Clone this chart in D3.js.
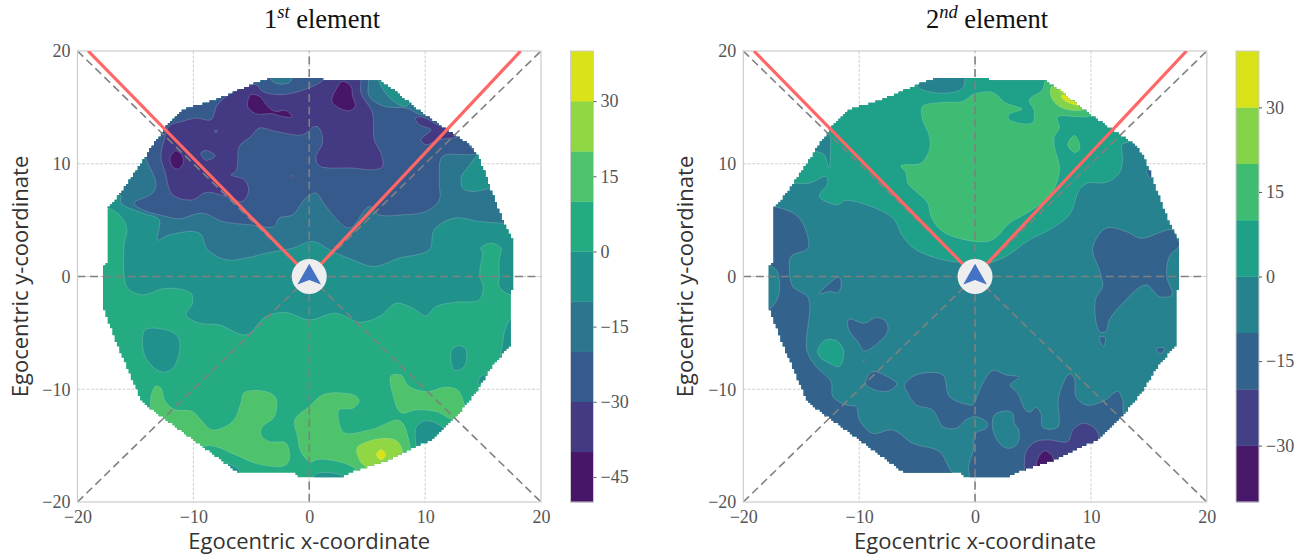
<!DOCTYPE html>
<html><head><meta charset="utf-8">
<script src="https://cdn.jsdelivr.net/npm/d3@7/dist/d3.min.js"></script>
<style>html,body{margin:0;background:#fff}svg{display:block}</style></head>
<body><svg id="c" width="1309" height="560"></svg>
<script>
// Data coordinates: egocentric x / y. Bands are numbered from the lowest level upward.
const discOutline=[[-3.16,17.7],[1.15,17.7],[1.2,17.4],[5.98,17.4],[7.19,16.57],[8.63,15.4],[9.98,14.35],[11.9,13],[13.8,11.7],[14.5,10.8],[15,9.6],[15.8,7.4],[16.8,4.7],[17.7,2.9],[17.7,-1.2],[17.34,-1.33],[17.34,-6.07],[15.8,-8],[14.4,-10.35],[12.5,-12.7],[10.6,-14.5],[8.6,-15.4],[6.76,-16.3],[4.03,-17.2],[2.88,-17.75],[-1,-17.75],[-1.15,-17.45],[-6.04,-17.45],[-9.2,-15.1],[-12.4,-12.7],[-14.5,-11.1],[-15,-9.8],[-16.4,-6.5],[-17.4,-3.85],[-17.75,-2.9],[-17.75,0.9],[-17.4,1.33],[-17.4,6.07],[-16.25,7.4],[-15.1,9.17],[-14.15,10.65],[-13.5,11.7],[-12.1,13.6],[-10.9,14.8],[-8.05,15.7],[-4.6,17.16],[-3.9,17.4]];

const firstLevels=[-50,-40,-30,-20,-10,0,10,20,30,40];
const secondLevels=[-40,-30,-20,-10,0,10,20,30,40];
const firstTicks=[30,15,0,-15,-30,-45];
const secondTicks=[30,15,0,-15,-30];
const axisTicks=[-20,-10,0,10,20];

// First element
const firstBase=5;
const firstBand4=[
 [[-20,6.1],[-17.4,6.07],[-16.25,5.33],[-15.73,4.14],[-15.96,2.96],[-15.96,0],[-15.67,-1.04],[-14.38,-1.63],[-12.37,-1.04],[-10.21,-1.48],[-10.07,-2.37],[-10.64,-3.4],[-9.49,-4.14],[-7.77,-4.29],[-5.46,-5.18],[-3.74,-3.55],[-2.01,-3.2],[0,-3.85],[2.3,-3.25],[4.31,-4.05],[6.04,-3.55],[7.48,-2.37],[8.92,-2.81],[10.07,-3.49],[10.93,-2.66],[12.65,-2.28],[14.67,-2.07],[15.01,-0.89],[14.73,0],[14.73,0.59],[14.96,2.07],[14.81,2.51],[15.67,2.96],[16.54,2.51],[16.39,1.48],[16.39,0],[16.39,-0.89],[17.34,-1.63],[20,-1.63],[20,20],[-20,20]],
 [[-14.15,-4.73],[-12.08,-4.82],[-11.27,-5.47],[-11.22,-6.8],[-11.79,-8.14],[-12.51,-8.49],[-13.37,-8.14],[-14.15,-7.1],[-14.38,-6.07]],
 [[12.8,-6.15],[13.46,-6.36],[13.57,-7.4],[13.23,-8.14],[12.51,-8.28],[12.22,-7.4],[12.31,-6.51]],
 [[17.34,-3.85],[16.82,-5.03],[16.68,-6.07],[16.54,-7.25],[18,-7],[18,-3.8]],
 [[14.6,-9.6],[14.7,-9],[15.2,-8.7],[15.6,-9.2]],
 [[0.4,-18],[0.6,-17.5],[1.7,-17.4],[2.9,-17.7],[3,-18]],
 [[-7.4,-16.5],[-6,-17.2],[-6.4,-17.8]]
];
const firstBand6=[
 [[-13.23,-9.7],[-12.8,-9.91],[-12.42,-11.09],[-11.65,-11.78],[-10.07,-11.98],[-9.35,-12.72],[-8.34,-13.61],[-6.61,-12.87],[-5.9,-11.24],[-5.61,-10.3],[-3.74,-10.21],[-2.88,-10.8],[-3.02,-12.43],[-4.03,-13.31],[-4.17,-14.05],[-3.45,-14.64],[-2.01,-14.79],[-1.73,-16.27],[-2.16,-16.78],[-4.31,-16.66],[-6.33,-15.83],[-8.05,-15.09],[-8.92,-15.03],[-10,-15.6],[-13.5,-13],[-13.66,-11.98],[-13.66,-10.65]],
 [[1.29,-10.44],[4.03,-10.59],[4.31,-11.09],[3.74,-11.69],[2.59,-11.83],[2.53,-12.72],[3.02,-13.85],[5.46,-13.55],[7.82,-12.78],[8.77,-15.38],[8.9,-16.4],[4.2,-18],[4.03,-17.16],[2.88,-16.51],[0.86,-16.21],[0.06,-16.42],[-0.72,-15.53],[-1.01,-14.2],[-1.24,-12.72],[0,-11.54]],
 [[7.05,-8.82],[7.91,-8.73],[8.63,-9.76],[10.21,-10.21],[11.65,-9.82],[12.8,-10.06],[13.46,-11.54],[13.6,-12.2],[12.6,-12.72],[10.93,-11.98],[9.2,-11.83],[7.91,-12.07],[7.19,-10.36]]
];
const firstIslandOnGreen=[
 [[10.07,-12.78],[11.22,-13.16],[11.94,-13.91],[11.6,-14.9],[9.49,-15.6],[9.15,-14.2],[9.26,-13.31]]
];
const firstBand7=[[[4.11,-15.24],[5.03,-14.64],[6.76,-14.35],[7.62,-14.64],[8.05,-15.68],[7.6,-17],[5,-18],[4.89,-16.9],[4.46,-16.5]]];
const firstBand8=[[[5.8,-15.8],[6.2,-15.35],[6.6,-15.8],[6.2,-16.25]]];
const firstBand3=[
 [[-20,7.3],[-16.31,7.25],[-16.25,6.51],[-14.38,5.62],[-12.94,5.03],[-13.09,3.25],[-12.08,3.7],[-9.49,3.85],[-8.77,2.37],[-7.19,1.48],[-5.46,1.63],[-3.74,2.07],[-1.44,2.51],[0.29,3.11],[2.01,2.22],[3.74,1.48],[5.61,0.89],[7.77,1.63],[10.35,2.37],[10.79,4.14],[12.51,5.18],[14.67,4.88],[16.68,4.73],[20,4.73],[20,20],[-20,20]]
];
const firstBand4Upper=[
 [[14.47,10.65],[13.66,9.62],[13.14,8.88],[13.23,7.84],[14.09,7.54],[15.67,7.84],[17,8],[16,11]],
 [[5.98,17.4],[6.47,16.42],[7.2,15.6],[8.3,15.1],[9,16],[6,18]]
];
const firstBand2=[
 [[-14.15,10.5],[-13.95,10.06],[-13.23,8.28],[-13.52,7.4],[-15.1,6.51],[-14.38,5.92],[-12.37,5.33],[-11.22,5.12],[-9.2,5.62],[-7.48,4.88],[-5.18,4.59],[-3.02,4.44],[-2.59,5.18],[-1.44,5.47],[-0.29,6.95],[0.58,7.4],[1.44,6.21],[3.45,4.29],[5.18,6.21],[6.04,5.47],[8.05,5.47],[10.07,5.77],[11.22,6.8],[11.22,8.43],[11.5,10.65],[13.8,10.8],[14.52,10.95],[13.8,11.69],[15,13],[10.5,16],[9.92,14.35],[8.34,14.94],[6.47,15.09],[5.18,15.98],[5.12,17.4],[5.12,18.5],[-20,18.5],[-20,10.5]]
];
const firstBand3Top=[[[-3.3,17.46],[-2.59,17.07],[-1.73,17.2],[-1.44,17.7],[-1.4,18.2],[-3.2,18.2]]];
const firstBand1=[
 [[-12.42,12.43],[-12.08,13.37],[-10.93,13.76],[-9.78,14.05],[-8.48,13.91],[-7.91,15.24],[-6.47,16.42],[-4.6,17.01],[-4.03,16.42],[-2.59,16.12],[-0.86,16.42],[0.58,17.01],[1.15,17.4],[1.15,18],[4.46,18],[4.46,17.4],[4.46,16.27],[5.46,14.5],[5.61,12.13],[6.18,10.95],[6.33,9.76],[5.61,9.47],[3.74,9.62],[0.86,9.82],[0.58,10.65],[1.15,11.83],[0.86,13.17],[0.43,13.31],[-0.58,12.57],[-2.88,12.87],[-4.31,13.17],[-5.03,12.43],[-6.04,11.54],[-6.18,10.06],[-6.33,9.32],[-6.76,9.02],[-5.61,8.58],[-5.23,7.69],[-5.75,6.66],[-7.19,7.1],[-8.92,7.46],[-10.07,6.8],[-11.79,7.25],[-12.42,9.17],[-12.8,10.65]],
 [[9.15,14.05],[9.78,14.14],[11.07,13.46],[11.94,13.08],[12.8,12.43],[11.22,12.13],[10.07,11.69],[9.63,12.13],[10.5,13.02],[9.49,13.46]],
 [[-1.64,8.88],[-1.52,9],[-1.4,8.88],[-1.52,8.76]]
];
const firstBand2Small=[
 [[-9.35,10.95],[-8.92,11.18],[-8.11,10.71],[-8.92,10.3],[-9.26,10.65]],
 [[-8.2,12.9],[-8.05,13],[-7.9,12.9],[-8.05,12.78]]
];
const firstBand0=[
 [[-5.03,16.12],[-4.31,15.98],[-3.45,14.94],[-2.88,14.64],[-2.01,14.73],[-1.5,14.14],[-2.59,14.26],[-3.16,14.44],[-4.6,14.44],[-5.32,15.09]],
 [[2.88,17.3],[3.6,16.86],[3.74,15.98],[3.97,15.09],[3.45,14.7],[2.59,14.94],[1.96,15.53],[2.3,16.57]],
 [[-11.5,11.15],[-10.93,10.65],[-10.87,10.06],[-11.36,9.53],[-11.79,9.76],[-12.02,10.5]]
];
const firstLayers=[[4,firstBand4],[6,firstBand6],[4,firstIslandOnGreen],[7,firstBand7],[8,firstBand8],[3,firstBand3],[4,firstBand4Upper],[2,firstBand2],[3,firstBand3Top],[1,firstBand1],[2,firstBand2Small],[0,firstBand0]];

// Second element
const secondBase=3;
const secondBand4=[
 [[-18,8.28],[-15.73,8.28],[-14.29,8.28],[-12.86,8.88],[-12.71,8.28],[-13.43,7.1],[-11.85,6.36],[-11.27,6.72],[-9.84,6.51],[-7.1,5.18],[-6.24,3.55],[-5.09,2.37],[-2.79,1.48],[-1.06,1.18],[0,0.59],[1.24,1.18],[2.67,1.78],[4.69,3.25],[6.41,4.14],[8.14,5.47],[9,7.69],[9.72,8.28],[11.3,8.34],[12.45,9.17],[12.74,10.36],[12.68,11.69],[13.46,11.98],[15,13],[9,17],[3,19],[-14,19]],
 [[-13.57,-6.51],[-12.86,-5.62],[-11.85,-5.77],[-11.33,-6.65],[-11.71,-7.99],[-12.57,-7.69],[-13.43,-7.1]]
];
const secondBand3Islands=[
 [[-4.95,16.86],[-3.65,16.33],[-1.93,16.33],[-1.06,16.72],[-0.86,17.69],[-0.9,18.5],[-5,18.5]],
 [[-14,11.3],[-12.6,12.6],[-12.48,10.95],[-12.63,9.62],[-13,10.8],[-13.66,11.09]]
];
const secondBand5=[
 [[6.04,17.31],[5.84,16.57],[4.69,15.68],[5.12,14.64],[4.92,13.61],[2.96,13.91],[2.9,14.35],[4.06,14.85],[2.67,15.38],[1.52,16.33],[-0.06,16.18],[-1.06,15.53],[-2.79,15.44],[-4.52,15.09],[-4.57,14.05],[-3.94,12.43],[-3.94,11.24],[-4.66,10.06],[-6.38,9.82],[-5.95,9.17],[-5.81,8.28],[-5.09,7.54],[-4.08,6.51],[-3.8,5.33],[-2.79,3.99],[-0.06,3.11],[1.52,3.25],[2.96,4.73],[4.69,5.77],[6.41,7.1],[7.13,8.58],[7.28,9.76],[6.85,11.54],[6.85,12.43],[7.28,13.17],[7.13,14.14],[10.01,14.26],[11,15.5],[7,18]],
 [[8.57,12.51],[9,11.83],[9,11.24],[8.57,11.01],[8,11.69]]
];
const secondBand6=[[[6.56,16.78],[7.2,17],[9,16],[9.72,14.94],[8.43,14.73],[7.13,15.18],[6.56,15.98]]];
const secondBand7=[[[7.22,16.57],[8,16],[8.9,15.2],[7.85,15.53],[7.42,16],[8.5,16.5]]];
const secondBand2=[
 [[-20,6.21],[-17.37,6.21],[-15.3,5.33],[-14.52,3.85],[-14.44,2.51],[-15.88,1.78],[-16.02,0.59],[-15.73,-0.89],[-14.38,-1.92],[-14.52,-6.51],[-13.72,-7.99],[-12.42,-9.32],[-12.28,-10.65],[-11.13,-11.39],[-10.27,-11.54],[-9.98,-12.72],[-8.83,-13.91],[-7.1,-13.61],[-5.38,-14.79],[-3.08,-15.53],[-1.98,-17.37],[-1.06,-17.9],[-1,-19],[-20,-19]],
 [[-0.35,-18.5],[-0.55,-16.86],[-0.14,-15.38],[0.03,-13.91],[0.95,-13.46],[1.09,-13.02],[0.09,-12.43],[-0.78,-12.72],[-1.64,-13.46],[-2.79,-13.31],[-3.65,-11.83],[-5.09,-11.39],[-5.95,-10.06],[-6.1,-9.62],[-5.09,-8.73],[-2.79,-8.73],[-2.21,-10.65],[-0.49,-11.39],[-0.2,-11.39],[0.66,-9.47],[1.52,-8.34],[2.67,-8.73],[3.77,-8.93],[3.02,-9.62],[3.68,-10.36],[4.4,-11.89],[4.83,-11.98],[5.21,-11.6],[5.69,-12.13],[5.84,-13.37],[7.13,-13.37],[7.22,-10.65],[8.14,-8.64],[8.57,-9.02],[8.71,-10.65],[9.58,-11.39],[11.02,-11.09],[12.31,-10.21],[12.74,-10.95],[12.88,-12.28],[14,-13],[10,-18],[3,-19],[-0.35,-19]],
 [[-13.43,-1.54],[-12.57,-0.59],[-11.71,-0.06],[-11.56,-0.89],[-11.85,-1.42],[-12.57,-1.33]],
 [[-10.9,-3.79],[-9.55,-4.14],[-8.54,-3.64],[-7.68,-4],[-7.54,-4.88],[-8.25,-5.77],[-9.55,-6.6],[-10.12,-5.77],[-10.9,-4.73]],
 [[-8.83,-8.43],[-7.68,-8.82],[-6.76,-9.53],[-7.68,-10.21],[-9.4,-9.62],[-9.35,-9.02]],
 [[11.3,4.29],[13.03,3.99],[14.32,3.4],[17.05,4.14],[17.49,3.25],[17.69,2.81],[16.77,1.78],[16.54,0],[17,-1.63],[15.9,-1.78],[14.75,-0.74],[12.74,-2.37],[11.59,-3.85],[11.3,-4.88],[10.73,-4.88],[10.38,-2.07],[11.02,-0.89],[10.87,0],[10.73,0.59],[10.15,2.51]],
 [[10.73,-5.33],[11.25,-5.47],[11.07,-6.21]],
 [[15.7,-6.36],[16.34,-6.36],[16.13,-6.8],[15.76,-6.75]],
 [[-9.65,-7.46],[-9.55,-7.35],[-9.45,-7.46],[-9.55,-7.6]],
 [[14.81,9.47],[15.1,8.73],[15.6,9.4]]
];
const secondBand3Over2=[
 [[-18.2,1],[-17.17,0.6],[-16.88,-1.18],[-17.17,-2.22],[-17.69,-2.81],[-18.2,-2.9]],
 [[1.67,-12.28],[2.67,-11.92],[3.25,-12.13],[3.39,-13.02],[3.77,-13.61],[3.68,-14.79],[2.96,-15.24],[2.24,-14.94],[1.52,-13.46]]
];
const secondBand1=[
 [[4.26,-17.1],[4.4,-15.53],[5.26,-14.64],[6.41,-14.5],[8,-14.64],[8.43,-13.61],[9.29,-13.02],[10.15,-13.31],[10.67,-14.05],[10.58,-14.79],[10.5,-15.5],[4.3,-18]],
 [[-13,-12.3],[-12.2,-13],[-12.8,-13.3],[-13.6,-12.6]]
];
const secondBand0=[[[5.32,-16.42],[5.98,-15.47],[6.7,-15.98],[6.6,-17],[5.4,-17]]];
const secondLayers=[[4,secondBand4],[3,secondBand3Islands],[5,secondBand5],[6,secondBand6],[7,secondBand7],[2,secondBand2],[3,secondBand3Over2],[1,secondBand1],[0,secondBand0]];

// Overlays
const viewRays=[[[0,0],[-19.08,20]],[[0,0],[18.25,20]]];
const referenceLines=[[[-20,20],[20,-20]],[[-20,-20],[20,20]],[[0,-20],[0,20]],[[-20,0],[20,0]]];
const arrowGlyph=[[0,1.12],[1.02,-0.7],[0,-0.3],[-1.02,-0.7]];

const svg=d3.select('#c');
const SERIF='"Liberation Serif",serif', SANS='"Open Sans",sans-serif';
const TOP=51,BOTTOM=502;

function stairs(points,g){
  const out=[];const snap=v=>Math.round(v/g)*g;
  const push=(x,y)=>{const l=out[out.length-1];
    if(!l){out.push([x,y]);return;}
    if(l[0]===x&&l[1]===y)return;
    if(l[0]!==x&&l[1]!==y)out.push([x,l[1]]);
    out.push([x,y]);};
  points.forEach((p,i)=>{const q=points[(i+1)%points.length];
    const n=Math.ceil(Math.hypot(q[0]-p[0],q[1]-p[1])/(g/4));
    for(let k=0;k<n;k++)push(snap(p[0]+(q[0]-p[0])*k/n),snap(p[1]+(q[1]-p[1])*k/n));});
  return out;
}

function panel(cfg){
  const x=d3.scaleLinear([-20,20],[cfg.left,cfg.left+463.5]);
  const y=d3.scaleLinear([-20,20],[BOTTOM,TOP]);
  const g=svg.append('g');
  const n=cfg.levels.length-1;
  const color=b=>d3.interpolateViridis((b+0.5)/n);
  const yAxis=d3.axisLeft(y).tickValues(axisTicks).tickSize(0).tickPadding(7);
  const xAxis=d3.axisBottom(x).tickValues(axisTicks).tickSize(0).tickPadding(8);
  // grid
  g.append('g').selectAll('line').data(axisTicks.slice(1,-1)).join('line')
    .attr('x1',d=>x(d)).attr('x2',d=>x(d)).attr('y1',TOP).attr('y2',BOTTOM)
    .attr('stroke','#cfcfcf').attr('stroke-width',1).attr('stroke-dasharray','3,1.5');
  g.append('g').selectAll('line').data(axisTicks.slice(1,-1)).join('line')
    .attr('y1',d=>y(d)).attr('y2',d=>y(d)).attr('x1',x(-20)).attr('x2',x(20))
    .attr('stroke','#cfcfcf').attr('stroke-width',1).attr('stroke-dasharray','3,1.5');
  // clip
  const clipId='disc'+cfg.id;
  const plain=d3.line().x(d=>x(d[0])).y(d=>y(d[1]));
  const smooth=d3.line().x(d=>x(d[0])).y(d=>y(d[1])).curve(d3.curveCatmullRomClosed.alpha(0.5));
  g.append('clipPath').attr('id',clipId).append('path').attr('d',plain(stairs(discOutline,0.2))+'Z');
  const field=g.append('g').attr('clip-path',`url(#${clipId})`);
  field.append('rect').attr('x',x(-20)).attr('y',TOP).attr('width',463.5).attr('height',BOTTOM-TOP).attr('fill',color(cfg.base));
  cfg.layers.forEach(([band,rings])=>{
    field.append('g').selectAll('path').data(rings).join('path')
      .attr('d',r=>smooth(r)).attr('fill',color(band))
      .attr('stroke','#dff0ea').attr('stroke-opacity',0.42).attr('stroke-width',0.5);
  });
  // reference dashes
  g.append('g').selectAll('path').data(referenceLines).join('path').attr('d',plain)
    .attr('fill','none').attr('stroke','#808080').attr('stroke-width',1.6).attr('stroke-dasharray','8,4.5');
  // spine
  g.append('rect').attr('x',x(-20)).attr('y',TOP).attr('width',463.5).attr('height',BOTTOM-TOP)
    .attr('fill','none').attr('stroke','#cccccc').attr('stroke-width',1.2);
  // rays
  const clipBox='box'+cfg.id;
  g.append('clipPath').attr('id',clipBox).append('rect').attr('x',x(-20)).attr('y',TOP).attr('width',463.5).attr('height',BOTTOM-TOP);
  g.append('g').attr('clip-path',`url(#${clipBox})`).selectAll('path').data(viewRays).join('path').attr('d',plain)
    .attr('fill','none').attr('stroke','#ff6666').attr('stroke-width',3.2);
  // agent
  g.append('circle').attr('cx',x(0)).attr('cy',y(0)).attr('r',17.5).attr('fill','#eeeeee');
  g.append('path').attr('d',plain(arrowGlyph)+'Z').attr('fill','#4472c4');
  // axes
  const styleAxis=s=>{s.select('.domain').remove();s.selectAll('text').attr('font-family',SERIF).attr('font-size',18).attr('fill','#555555');};
  g.append('g').attr('transform',`translate(${x(-20)},0)`).call(yAxis).call(styleAxis);
  g.append('g').attr('transform',`translate(0,${BOTTOM})`).call(xAxis).call(styleAxis);
  // labels
  g.append('text').attr('x',x(0)).attr('y',549).attr('text-anchor','middle').attr('font-family',SANS).attr('font-size',22).attr('fill','#333333').text('Egocentric x-coordinate');
  g.append('text').attr('transform',`translate(${cfg.left-50},${y(0)}) rotate(-90)`).attr('text-anchor','middle').attr('font-family',SANS).attr('font-size',22).attr('fill','#333333').text('Egocentric y-coordinate');
  const t=g.append('text').attr('x',cfg.titleX).attr('y',28).attr('text-anchor','middle').attr('font-family',SERIF).attr('font-size',26.5).attr('fill','#111111');
  t.append('tspan').text(cfg.ordinal);
  t.append('tspan').attr('dy',-10).attr('font-size',18.5).attr('font-style','italic').text(cfg.suffix);
  t.append('tspan').attr('dy',10).text(' element');
  // colour bar
  const cb=d3.scaleLinear([cfg.levels[0],cfg.levels[n]],[BOTTOM,TOP]);
  const cbg=g.append('g');
  cbg.selectAll('rect').data(d3.range(n)).join('rect')
    .attr('x',cfg.barX).attr('width',23).attr('y',b=>cb(cfg.levels[b+1])).attr('height',b=>cb(cfg.levels[b])-cb(cfg.levels[b+1])+0.3)
    .attr('fill',color);
  cbg.append('rect').attr('x',cfg.barX).attr('width',23).attr('y',TOP).attr('height',BOTTOM-TOP).attr('fill','none').attr('stroke','#cccccc');
  const cAxis=d3.axisRight(cb).tickValues(cfg.ticks).tickSize(3).tickPadding(4);
  cbg.append('g').attr('transform',`translate(${cfg.barX+23},0)`).call(cAxis).call(s=>{
    s.select('.domain').remove();s.selectAll('line').attr('stroke','#555555');
    s.selectAll('text').attr('font-family',SERIF).attr('font-size',18).attr('fill','#555555');});
}
panel({id:1,left:77.5,levels:firstLevels,base:firstBase,layers:firstLayers,ticks:firstTicks,barX:570.5,titleX:322,ordinal:'1',suffix:'st'});
panel({id:2,left:743.3,levels:secondLevels,base:secondBase,layers:secondLayers,ticks:secondTicks,barX:1236,titleX:987,ordinal:'2',suffix:'nd'});
</script></body></html>
